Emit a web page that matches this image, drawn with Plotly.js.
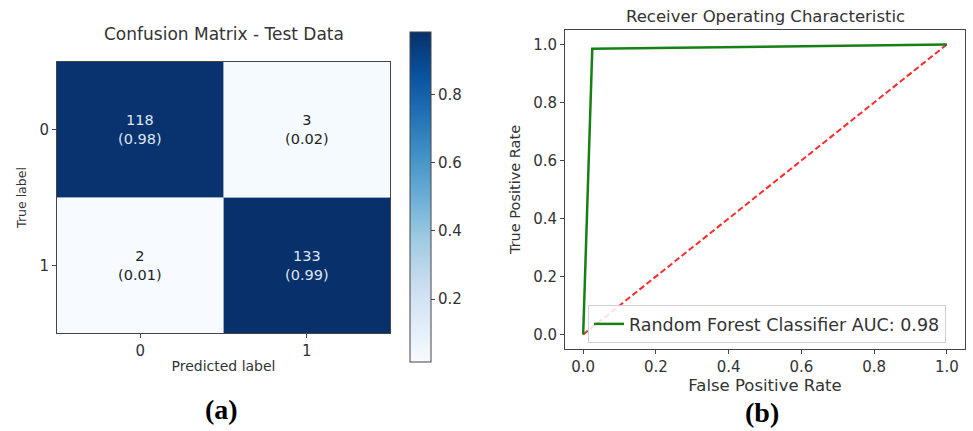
<!DOCTYPE html>
<html>
<head>
<meta charset="utf-8">
<script src="https://cdn.plot.ly/plotly-3.0.1.min.js"></script>
<style>html,body{margin:0;padding:0;background:#fff;}#chart{width:973px;height:431px;}</style>
</head>
<body>
<div id="chart"></div>
<script>
// ---- data ----
const cmLabels = ['0', '1'];
const cmCounts = [[118, 3], [2, 133]];
const cmRatios = [[0.98, 0.02], [0.01, 0.99]];
const cmZ = [[0.975, 0.025], [0.0148, 0.985]];
const rocFpr = [0.0, 0.025, 1.0];
const rocTpr = [0.0, 0.985, 1.0];
const diagX = [0, 1];
const diagY = [0, 1];
const cbTicks = [0.2, 0.4, 0.6, 0.8];
const rocTicks = [0, 0.2, 0.4, 0.6, 0.8, 1.0];
const rocLegend = 'Random Forest Classifier AUC: 0.98';

const W = 973, H = 431;
const px = v => v / W;
const py = v => 1 - v / H;
const txt = '#333333';
const font = 'DejaVu Sans, sans-serif';
const serif = 'Liberation Serif, Times New Roman, serif';

const blues = [
  [0.0, '#f7fbff'], [0.125, '#deebf7'], [0.25, '#c6dbef'], [0.375, '#9ecae1'],
  [0.5, '#6baed6'], [0.625, '#4292c6'], [0.75, '#2171b5'], [0.875, '#08519c'], [1.0, '#08306b']
];

const heat = {
  type: 'heatmap',
  x: cmLabels, y: cmLabels, z: cmZ,
  xaxis: 'x', yaxis: 'y',
  colorscale: blues, zmin: 0.0148, zmax: 0.985,
  hoverinfo: 'skip',
  colorbar: {
    x: px(410), xanchor: 'left', xpad: 0,
    y: py(197), yanchor: 'middle', ypad: 0,
    len: (362 - 32) / H, lenmode: 'fraction',
    thickness: 21, thicknessmode: 'pixels',
    outlinewidth: 1, outlinecolor: '#444',
    tickvals: cbTicks, ticktext: cbTicks.map(v => v.toFixed(1)),
    ticks: 'outside', ticklen: 4, tickcolor: '#444',
    tickfont: {family: font, size: 15, color: txt}
  }
};

const roc = {
  type: 'scatter', mode: 'lines',
  x: rocFpr, y: rocTpr, xaxis: 'x2', yaxis: 'y2',
  line: {color: '#168016', width: 2.5},
  name: rocLegend, showlegend: true, hoverinfo: 'skip'
};
const diag = {
  type: 'scatter', mode: 'lines',
  x: diagX, y: diagY, xaxis: 'x2', yaxis: 'y2',
  line: {color: '#ff2a2a', width: 2, dash: '6px,3px'},
  showlegend: false, hoverinfo: 'skip'
};

const annotations = [];
for (let i = 0; i < cmLabels.length; i++) {
  for (let j = 0; j < cmLabels.length; j++) {
    const dark = cmZ[i][j] > 0.5;
    annotations.push({
      xref: 'x', yref: 'y', x: cmLabels[j], y: cmLabels[i],
      text: cmCounts[i][j] + '<br>(' + cmRatios[i][j].toFixed(2) + ')',
      showarrow: false, xanchor: 'center', yanchor: 'middle',
      font: {family: font, size: 14.5, color: dark ? '#dfe6f2' : '#222'}
    });
  }
}
const paperText = (x, y, text, f) => ({
  xref: 'paper', yref: 'paper', x: px(x), y: py(y), text: text,
  showarrow: false, xanchor: 'center', yanchor: 'middle', font: f
});
annotations.push(
  paperText(224, 34, 'Confusion Matrix - Test Data', {family: font, size: 17, color: txt}),
  paperText(765, 16, 'Receiver Operating Characteristic', {family: font, size: 16.5, color: txt}),
  paperText(221, 409, '<b>(a)</b>', {family: serif, size: 28, color: '#000'}),
  paperText(762, 412, '<b>(b)</b>', {family: serif, size: 28, color: '#000'})
);

const axBase = {
  showline: true, mirror: true, linecolor: '#444', linewidth: 1,
  showgrid: false, zeroline: false,
  ticks: 'outside', ticklen: 4, tickcolor: '#444',
  tickfont: {family: font, size: 15, color: txt}
};

const layout = {
  width: W, height: H,
  margin: {l: 0, r: 0, t: 0, b: 0},
  paper_bgcolor: '#fff', plot_bgcolor: '#fff',
  showlegend: true,
  xaxis: Object.assign({}, axBase, {
    domain: [px(57), px(390)], anchor: 'y',
    type: 'category', range: [-0.5, 1.5],
    title: {text: 'Predicted label', font: {family: font, size: 14, color: txt}, standoff: 2}
  }),
  yaxis: Object.assign({}, axBase, {
    domain: [py(333), py(62)], anchor: 'x',
    type: 'category', range: [1.5, -0.5],
    title: {text: 'True label', font: {family: font, size: 12.5, color: txt}, standoff: 10}
  }),
  xaxis2: Object.assign({}, axBase, {
    domain: [px(565), px(965)], anchor: 'y2',
    range: [-0.05, 1.05], tickvals: rocTicks, ticktext: rocTicks.map(v => v.toFixed(1)),
    title: {text: 'False Positive Rate', font: {family: font, size: 16.5, color: txt}, standoff: 3}
  }),
  yaxis2: Object.assign({}, axBase, {
    domain: [py(349), py(30)], anchor: 'x2',
    range: [-0.05, 1.05], tickvals: rocTicks, ticktext: rocTicks.map(v => v.toFixed(1)),
    title: {text: 'True Positive Rate', font: {family: font, size: 14.5, color: txt}, standoff: 9}
  }),
  legend: {
    x: px(588), xanchor: 'left', y: py(343), yanchor: 'bottom',
    bgcolor: 'rgba(255,255,255,0.85)', bordercolor: '#d0d0d0', borderwidth: 1,
    font: {family: font, size: 17.5, color: txt}
  },
  shapes: [
    {type: 'line', xref: 'x', yref: 'y', x0: 0.5, x1: 0.5, y0: -0.5, y1: 1.5,
     line: {color: '#9aabc6', width: 1}},
    {type: 'line', xref: 'x', yref: 'y', x0: -0.5, x1: 1.5, y0: 0.5, y1: 0.5,
     line: {color: '#9aabc6', width: 1}}
  ],
  annotations: annotations
};

Plotly.newPlot('chart', [heat, diag, roc], layout, {displayModeBar: false, staticPlot: true});
</script>
</body>
</html>
